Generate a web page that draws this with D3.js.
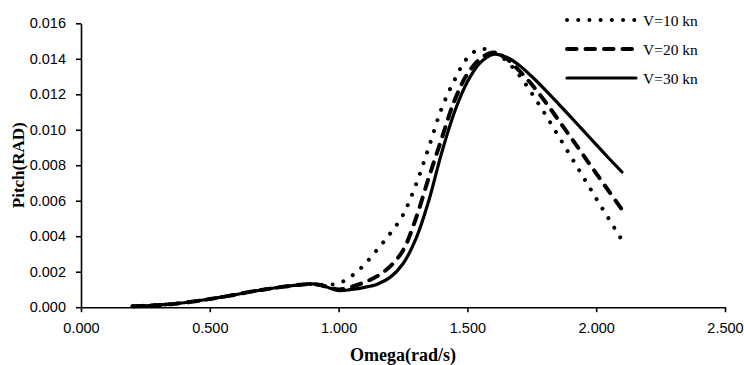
<!DOCTYPE html>
<html>
<head>
<meta charset="utf-8">
<script src="https://cdn.jsdelivr.net/npm/d3@7/dist/d3.min.js"></script>
<style>
  html, body { margin: 0; padding: 0; background: #fff; }
  svg { display: block; }
</style>
</head>
<body>
<svg id="chart" width="744" height="365"></svg>
<script>
// Wave frequency (rad/s) shared by all three speed cases
const omega = [0.20, 0.25, 0.30, 0.35, 0.40, 0.45, 0.50, 0.55, 0.60, 0.65,
               0.70, 0.75, 0.80, 0.85, 0.90, 0.95, 1.00, 1.05, 1.10, 1.15,
               1.20, 1.25, 1.30, 1.35, 1.40, 1.45, 1.50, 1.55, 1.60, 1.65,
               1.70, 1.75, 1.80, 1.85, 1.90, 1.95, 2.00, 2.05, 2.10];

// Pitch response amplitude (rad)
const pitchV10 = [0.00005, 0.00008, 0.00012, 0.00017, 0.00025, 0.00035, 0.00046, 0.00058, 0.00071, 0.00085,
                  0.00097, 0.00108, 0.00118, 0.00126, 0.00131, 0.00126, 0.00135, 0.00175, 0.00240, 0.00325,
                  0.00415, 0.00520, 0.00690, 0.00900, 0.01120, 0.01280, 0.01405, 0.01455, 0.01440, 0.01390,
                  0.01310, 0.01205, 0.01092, 0.00973, 0.00853, 0.00733, 0.00613, 0.00495, 0.00378];
const pitchV20 = [0.00005, 0.00008, 0.00012, 0.00017, 0.00025, 0.00035, 0.00046, 0.00058, 0.00071, 0.00085,
                  0.00097, 0.00108, 0.00118, 0.00126, 0.00131, 0.00118, 0.00100, 0.00115, 0.00140, 0.00175,
                  0.00230, 0.00320, 0.00500, 0.00730, 0.00950, 0.01165, 0.01315, 0.01400, 0.01435, 0.01402,
                  0.01335, 0.01255, 0.01162, 0.01062, 0.00960, 0.00857, 0.00754, 0.00652, 0.00550];
const pitchV30 = [0.00005, 0.00008, 0.00012, 0.00017, 0.00025, 0.00035, 0.00046, 0.00058, 0.00071, 0.00085,
                  0.00097, 0.00108, 0.00118, 0.00126, 0.00131, 0.00115, 0.00093, 0.00100, 0.00112, 0.00130,
                  0.00168, 0.00245, 0.00385, 0.00600, 0.00870, 0.01100, 0.01270, 0.01378, 0.01425, 0.01410,
                  0.01365, 0.01300, 0.01228, 0.01152, 0.01074, 0.00995, 0.00916, 0.00838, 0.00762];

const seriesNames = ["V=10 kn", "V=20 kn", "V=30 kn"];
const xTicks = [0, 0.5, 1.0, 1.5, 2.0, 2.5];
const yTicks = [0, 0.002, 0.004, 0.006, 0.008, 0.010, 0.012, 0.014, 0.016];

const series = [
  { name: seriesNames[0], values: pitchV10, width: 4,   dash: "0.01 11.2" },
  { name: seriesNames[1], values: pitchV20, width: 4,   dash: "9.5 9" },
  { name: seriesNames[2], values: pitchV30, width: 3.2, dash: null }
];

const svg = d3.select("#chart");
const plot = { left: 81, right: 725, top: 23.3, bottom: 307.2 };

const x = d3.scaleLinear().domain([0, 2.5]).range([plot.left, plot.right]);
const y = d3.scaleLinear().domain([0, 0.016]).range([plot.bottom, plot.top]);

const tickFont = "'Liberation Sans', Arial, sans-serif";
const serifFont = "'Liberation Serif', 'Times New Roman', serif";

// X axis
const xAxis = svg.append("g")
  .attr("transform", `translate(0,${plot.bottom})`)
  .call(d3.axisBottom(x).tickValues(xTicks).tickFormat(d3.format(".3f"))
        .tickSizeInner(5).tickSizeOuter(0).tickPadding(11));
// Y axis
const yAxis = svg.append("g")
  .attr("transform", `translate(${plot.left},0)`)
  .call(d3.axisLeft(y).tickValues(yTicks).tickFormat(d3.format(".3f"))
        .tickSizeInner(5).tickSizeOuter(0).tickPadding(10));

[xAxis, yAxis].forEach(g => {
  g.select(".domain").attr("stroke", "#000").attr("stroke-width", 1.6);
  g.selectAll(".tick line").attr("stroke", "#000").attr("stroke-width", 1.6);
  g.selectAll(".tick text").attr("fill", "#000")
    .style("font-family", tickFont).style("font-size", "14.5px");
});

// Response curves
const line = d3.line()
  .x((d, i) => x(omega[i]))
  .y(d => y(d))
  .curve(d3.curveCatmullRom.alpha(0.5));

svg.append("g").selectAll("path")
  .data(series)
  .join("path")
  .attr("d", s => line(s.values))
  .attr("fill", "none")
  .attr("stroke", "#000")
  .attr("stroke-width", s => s.width)
  .attr("stroke-linecap", "round")
  .attr("stroke-linejoin", "round")
  .attr("stroke-dasharray", s => s.dash);

// Axis titles
svg.append("text")
  .attr("x", (plot.left + plot.right) / 2)
  .attr("y", 361)
  .attr("text-anchor", "middle")
  .style("font-family", serifFont)
  .style("font-weight", "bold")
  .style("font-size", "18px")
  .text("Omega(rad/s)");

svg.append("text")
  .attr("transform", `translate(24,${(plot.top + plot.bottom) / 2}) rotate(-90)`)
  .attr("text-anchor", "middle")
  .style("font-family", serifFont)
  .style("font-weight", "bold")
  .style("font-size", "17px")
  .text("Pitch(RAD)");

// Legend
const legend = svg.append("g").selectAll("g")
  .data(series)
  .join("g")
  .attr("transform", (s, i) => `translate(567,${20 + i * 29})`);

legend.append("line")
  .attr("x1", 0).attr("x2", 69)
  .attr("stroke", "#000")
  .attr("stroke-width", s => s.width)
  .attr("stroke-linecap", "round")
  .attr("stroke-dasharray", s => s.dash);

legend.append("text")
  .attr("x", 76)
  .attr("y", 5.5)
  .style("font-family", serifFont)
  .style("font-size", "15.5px")
  .text(s => s.name);
</script>
</body>
</html>
